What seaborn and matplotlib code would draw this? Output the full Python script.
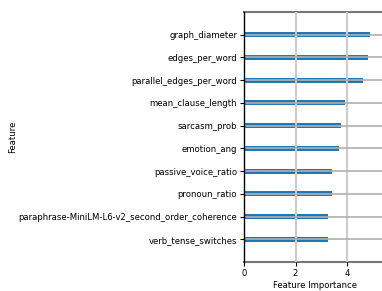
import matplotlib
matplotlib.use("Agg")
import matplotlib.pyplot as plt
import seaborn as sns
import pandas as pd

features = ["graph_diameter", "edges_per_word", "parallel_edges_per_word",
            "mean_clause_length", "sarcasm_prob", "emotion_ang",
            "passive_voice_ratio", "pronoun_ratio",
            "paraphrase-MiniLM-L6-v2_second_order_coherence",
            "verb_tense_switches"]
importance = [4.89, 4.82, 4.62, 3.92, 3.77, 3.69, 3.42, 3.42, 3.26, 3.26]
xticks = [0, 2, 4]

df = pd.DataFrame({"Feature": features, "Feature Importance": importance})

fig = plt.figure(figsize=(3.82, 2.91), dpi=100)
W, H = 382, 291
x0, x1 = 244, 244 + 5.5 * 25.75
y0, y1 = 262, 12
ax = fig.add_axes([x0 / W, 1 - y0 / H, (x1 - x0) / W, (y0 - y1) / H])

sns.barplot(data=df, y="Feature", x="Feature Importance", orient="h",
            color="#1f77b4", saturation=1, width=0.22, linewidth=0, ax=ax)

ax.set_xlim(0, 5.5)
ax.set_ylim(len(features), -1)
ax.set_xticks(xticks)
ax.set_xticklabels([str(t) for t in xticks])
ax.set_axisbelow(False)
ax.grid(axis="x", color="#cccccc", linewidth=1.5)
ax.grid(axis="y", color="#b0b0b0", linewidth=1.2)
ax.get_xgridlines()[0].set_visible(False)

ax.tick_params(axis="both", labelsize=6.1, length=3, width=0.8, pad=2)
ax.set_xlabel("Feature Importance", fontsize=6.1, labelpad=2)
ax.set_ylabel("Feature", fontsize=6.1)
ax.yaxis.set_label_coords(-(244 - 17) / (x1 - x0), 0.5)

ax.spines["right"].set_visible(False)
ax.spines["left"].set_color("black")
ax.spines["left"].set_linewidth(1.0)
ax.spines["left"].set_zorder(5)
for s in ("top", "bottom"):
    ax.spines[s].set_color("#777777")
    ax.spines[s].set_linewidth(1.5)

fig.savefig("out.png", dpi=100)
